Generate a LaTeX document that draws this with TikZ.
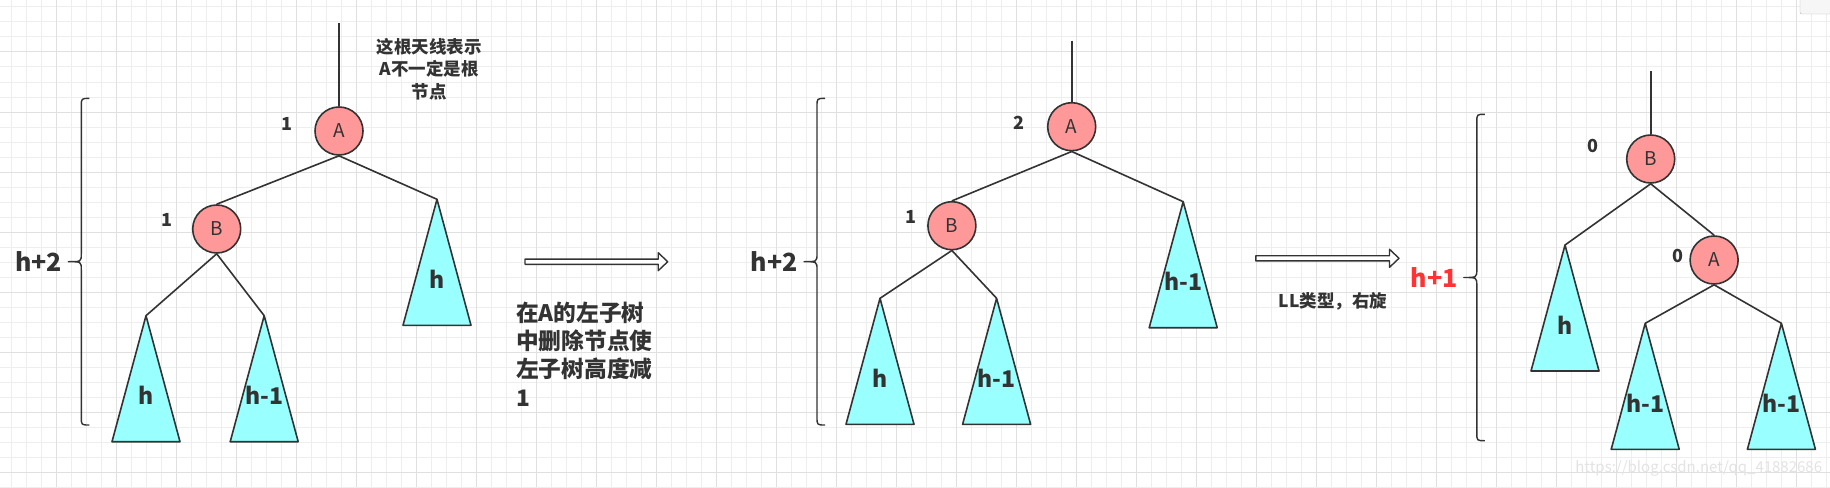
\documentclass[tikz,border=0pt]{standalone}
\usepackage{fontspec}
\setmainfont{Noto Sans CJK SC}
\usetikzlibrary{positioning}
\definecolor{linec}{HTML}{333333}
\definecolor{nodefill}{HTML}{FF9999}
\definecolor{treefill}{HTML}{99FFFF}
\definecolor{gridminor}{HTML}{EEEEEE}
\definecolor{gridmajor}{HTML}{E0E0E0}
\definecolor{hred}{HTML}{FF3333}

\begin{document}
\begin{tikzpicture}[x=1pt, y=-1pt, line join=round,
                    avl/.style={circle, draw=linec, fill=nodefill, line width=1.6pt,
                        minimum size=48pt, inner sep=0pt, text=linec,
                        font=\fontsize{19}{19}\selectfont},
                    bal/.style={text=linec, inner sep=0pt,
                        font=\bfseries\fontsize{18}{18}\selectfont},
                    hgt/.style={text=linec, inner sep=0pt,
                        font=\bfseries\fontsize{25}{25}\selectfont},
                    note/.style={text=linec, inner sep=0pt, align=center,
                        font=\bfseries\fontsize{17.5}{22.5}\selectfont},
                    link/.style={draw=linec, line width=1.6pt},
                    pics/subtree/.style={code={
                        \draw[link, fill=treefill] (0,0) coordinate (-top) -- (-34,126) -- (34,126) -- cycle;
                        \node (-lbl) [hgt, font=\bfseries\fontsize{23}{23}\selectfont] at (0,80) {#1};
                    }},
                    pics/hbrace/.style={code={
                        \draw[link, line width=1.4pt] (8,-#1) .. controls (0,-#1) .. (0,8-#1) -- (0,-8)
                            .. controls (0,0) .. (-13,0) coordinate (-tip) .. controls (0,0) .. (0,8)
                            -- (0,#1-8) .. controls (0,#1) .. (8,#1);
                    }},
                    pics/flexarrow/.style={code={
                        \draw[link, line width=1.4pt, fill=white] (0,-2.6) -- (#1-9.5,-2.6) -- (#1-9.5,-9)
                            -- (#1,0) -- (#1-9.5,9) -- (#1-9.5,2.6) -- (0,2.6) -- cycle;
                    }}]
                \useasboundingbox (0,0) rectangle (1830,487);
                \fill[white] (0,0) rectangle (1830,487);
                \foreach \gx in {11,26,...,1830} \draw[gridminor, line width=1pt] (\gx,0) -- (\gx,487);
                \foreach \gy in {7,22,...,487} \draw[gridminor, line width=1pt] (0,\gy) -- (1830,\gy);
                \foreach \gx in {56,116,...,1830} \draw[gridmajor, line width=1pt] (\gx,0) -- (\gx,487);
                \foreach \gy in {52,112,...,487} \draw[gridmajor, line width=1pt] (0,\gy) -- (1830,\gy);
                \draw[gray!55, fill=gray!7, rounded corners=2pt] (1800,-4) rectangle (1834,14);

                \node (A1) [avl] at (339,131) {A};
                \node (B1) [avl] at (216.7,229) {B};
                \coordinate (top1) at (339,23.3);
                \node (balA1) [bal] at (286.7,124) {1};
                \node (balB1) [bal] at (166.5,220) {1};
                \draw[link] (top1) -- (A1);
                \pic (tA1) at (437,199.3) {subtree=h};
                \pic (tB1l) at (146,315.7) {subtree=h};
                \pic (tB1r) at (264.2,315.7) {subtree=h-1};
                \path[link]
                (A1.south) edge (B1.north)
                           edge (tA1-top)
                (B1.south) edge (tB1l-top)
                           edge (tB1r-top);
                \pic (br1) at (81.3,261.7) {hbrace=163.3};
                \node (hB1) [hgt, left=6pt of br1-tip] {h+2};
                \node (ant) [note] at (429,69) {这根天线表示\\A不一定是根\\节点};

                \pic (arr1) at (525,261.7) {flexarrow=142.7};
                \node (del) [note, align=left, anchor=west,
                    font=\bfseries\fontsize{22.7}{28.3}\selectfont] at (516,354)
                    {在A的左子树\\中删除节点使\\左子树高度减\\1};

                \node (A2) [avl] at (1071.7,126.7) {A};
                \node (B2) [avl] at (951.9,225.7) {B};
                \coordinate (top2) at (1071.7,40.7);
                \node (balA2) [bal] at (1019,123.3) {2};
                \node (balB2) [bal] at (911.2,217.3) {1};
                \draw[link] (top2) -- (A2);
                \pic (tA2) at (1183.2,201.7) {subtree=h-1};
                \pic (tB2l) at (880,298.3) {subtree=h};
                \pic (tB2r) at (996.6,298.3) {subtree=h-1};
                \path[link]
                (A2.south) edge (B2.north)
                           edge (tA2-top)
                (B2.south) edge (tB2l-top)
                           edge (tB2r-top);
                \pic (br2) at (817,261.7) {hbrace=163.3};
                \node (hB2) [hgt, left=6pt of br2-tip] {h+2};

                \pic (arr2) at (1255.8,258.3) {flexarrow=143.2};
                \node (ll) [note] at (1332.8,301) {LL类型，右旋};

                \pic (br3) at (1476.8,277.5) {hbrace=163.2};
                \node (hB3) [hgt, text=hred, left=6pt of br3-tip] {h+1};
                \node (B3) [avl] at (1650.7,159) {B};
                \node (A3) [avl] at (1714.1,260) {A};
                \coordinate (top3) at (1650.7,71);
                \node (balB3) [bal] at (1592.7,146) {0};
                \node (balA3) [bal] at (1678.3,256) {0};
                \draw[link] (top3) -- (B3);
                \pic (tB3) at (1565,245) {subtree=h};
                \pic (tA3l) at (1645.2,323.3) {subtree=h-1};
                \pic (tA3r) at (1781.4,323.3) {subtree=h-1};
                \path[link]
                (B3.south) edge (tB3-top)
                           edge (A3.north)
                (A3.south) edge (tA3l-top)
                           edge (tA3r-top);

                \node (wm) [text=gray!22, font=\fontsize{15}{15}\selectfont] at (1698.7,468.3)
                    {https://blog.csdn.net/qq\_41882686};
            \end{tikzpicture}
\end{document}
